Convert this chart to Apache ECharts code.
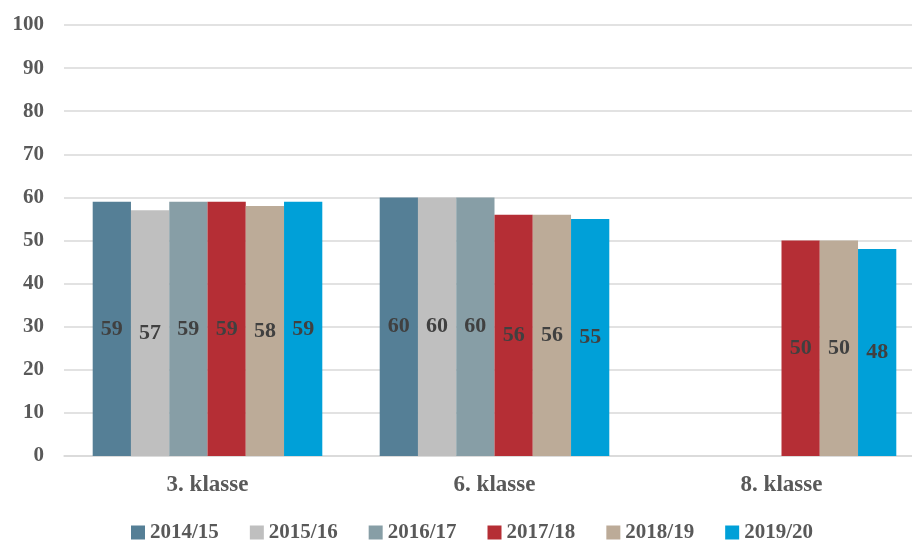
<!DOCTYPE html>
<html><head><meta charset="utf-8">
<script src="https://cdn.jsdelivr.net/npm/echarts@6/dist/echarts.min.js"></script>
<style>html,body{margin:0;padding:0;background:#fff;overflow:hidden;width:912px;height:544px}#c{width:925px;height:544px}</style>
</head><body><div id="c"></div>
<script>
const categories = ['3. klasse', '6. klasse', '8. klasse'];
const seriesNames = ['2014/15', '2015/16', '2016/17', '2017/18', '2018/19', '2019/20'];
const v2014 = [59, 60, null];
const v2015 = [57, 60, null];
const v2016 = [59, 60, null];
const v2017 = [59, 56, 50];
const v2018 = [58, 56, 50];
const v2019 = [59, 55, 48];
const yTicks = [0, 10, 20, 30, 40, 50, 60, 70, 80, 90, 100];
const colors = ['#557f96', '#bfbfbf', '#879ea6', '#b52e35', '#bcab98', '#00a0d8'];
const values = [v2014, v2015, v2016, v2017, v2018, v2019];
const font = '"Liberation Serif", "DejaVu Serif", serif';
const chart = echarts.init(document.getElementById('c'));
chart.setOption({
  animation: false,
  textStyle: { fontFamily: font },
  grid: { left: 64, right: 0, top: 25, bottom: 88, containLabel: false },
  legend: {
    bottom: -4, left: 126, itemWidth: 14, itemHeight: 14, itemGap: 31,
    icon: 'rect',
    textStyle: { fontFamily: font, fontSize: 21, fontWeight: 'bold', color: '#595959' },
    data: seriesNames
  },
  xAxis: {
    type: 'category', data: categories,
    axisLine: { lineStyle: { color: '#d9d9d9', width: 1.5 } },
    axisTick: { show: false },
    axisLabel: { fontFamily: font, fontSize: 23, fontWeight: 'bold', color: '#595959', margin: 18 }
  },
  yAxis: {
    type: 'value', min: 0, max: 100, interval: 10,
    axisLine: { show: false }, axisTick: { show: false },
    splitLine: { lineStyle: { color: '#d9d9d9', width: 1.5 } },
    axisLabel: { fontFamily: font, fontSize: 21, fontWeight: 'bold', color: '#595959', margin: 20,
      formatter: v => yTicks.includes(v) ? String(v) : '' }
  },
  series: seriesNames.map((n, i) => ({
    name: n, type: 'bar', data: values[i],
    barGap: '0%', barCategoryGap: '20%',
    itemStyle: { color: colors[i] },
    label: { show: true, position: 'inside', fontFamily: font, fontSize: 22, fontWeight: 'bold', color: '#404040' }
  }))
});
</script></body></html>
